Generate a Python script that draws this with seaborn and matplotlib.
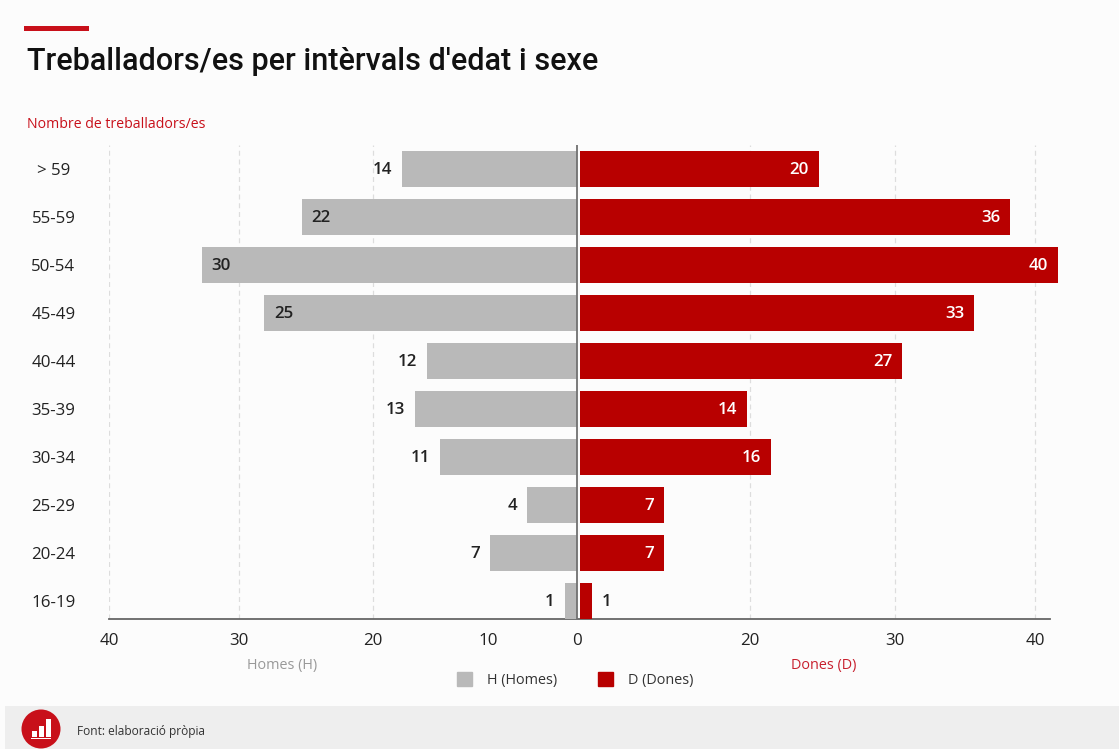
import numpy as np
import pandas as pd
import seaborn as sns
import matplotlib.pyplot as plt
from matplotlib.patches import Circle, Patch, Rectangle

# Workforce by age band and sex
age_bands = ["> 59", "55-59", "50-54", "45-49", "40-44", "35-39", "30-34", "25-29", "20-24", "16-19"]
men = [14, 22, 30, 25, 12, 13, 11, 4, 7, 1]
women = [20, 36, 40, 33, 27, 14, 16, 7, 7, 1]
axis_ticks = [-40, -30, -20, -10, 0, 20, 30, 40]

GREY = "#b9b9b9"
RED = "#b80000"
ACCENT = "#c8101a"
TEXT = "#222222"
W, H = 1119, 749

sns.set_theme(style="white")
plt.rcParams["font.family"] = ["Open Sans", "DejaVu Sans"]

fig = plt.figure(figsize=(W / 100, H / 100), dpi=100, facecolor="#fcfcfc")


def pixel_axes(x0, x1, y_top, y_bottom, **kw):
    """Axes placed from pixel edges measured from the top-left of the figure."""
    return fig.add_axes([x0 / W, 1 - y_bottom / H, (x1 - x0) / W, (y_bottom - y_top) / H], **kw)


# Full-figure layer for the header rule, footer band and free text
deco = pixel_axes(0, W, 0, H, zorder=0)
deco.set_xlim(0, W)
deco.set_ylim(H, 0)
deco.axis("off")
deco.add_patch(Rectangle((24, 26), 65, 5, color=ACCENT, lw=0))
deco.add_patch(Rectangle((5, 706), W, 43, color="#eeeeee", lw=0))
deco.add_patch(Circle((41, 729), 19.5, color=ACCENT, lw=0))
for bx, bh in [(32, 6), (39, 11), (46, 18)]:
    deco.add_patch(Rectangle((bx - 0.5, 737 - bh), 5, bh, color="white", lw=0))
deco.add_patch(Rectangle((31, 738), 20, 1.2, color="white", lw=0))
deco.text(27, 62, "Treballadors/es per intèrvals d'edat i sexe", fontsize=22, fontweight="medium",
          family="Roboto", color="#111111", va="center", ha="left")
deco.text(27, 125, "Nombre de treballadors/es", fontsize=10.2, color=ACCENT, va="center", ha="left")
deco.text(282, 665, "Homes (H)", fontsize=10.4, color="#999999", va="center", ha="center")
deco.text(824, 665, "Dones (D)", fontsize=10.4, color="#c8202e", va="center", ha="center")
deco.text(77, 732, "Font: elaboració pròpia", fontsize=8.6, color="#333333", va="center", ha="left")

# Shared value axis with its own tick spacing, gridlines behind the bars
knots_value = [-40, -30, -20, -10, 0, 20, 30, 40, 41.2]
knots_pixel = [109, 239, 373, 488, 577, 750, 895, 1035, 1050]
scale_ax = pixel_axes(109, 1050, 145, 619, zorder=1)
scale_ax.patch.set_alpha(0)
scale_ax.set_xscale("function", functions=(lambda v: np.interp(v, knots_value, knots_pixel),
                                           lambda p: np.interp(p, knots_pixel, knots_value)))
scale_ax.set_xlim(-40, 41.2)
scale_ax.set_xticks(axis_ticks, [str(abs(t)) for t in axis_ticks])
scale_ax.set_yticks([])
scale_ax.tick_params(axis="x", length=4, width=0.8, color="#999999", direction="in",
                     labelsize=12.2, labelcolor=TEXT, pad=10)
scale_ax.grid(axis="x", color="#dddddd", linestyle=(0, (4, 3)), linewidth=0.9)
for tick_value, line in zip(axis_ticks, scale_ax.get_xgridlines()):
    line.set_visible(tick_value not in (-10, 0))
for side in ("top", "left", "right"):
    scale_ax.spines[side].set_visible(False)
scale_ax.spines["bottom"].set_color("#666666")
scale_ax.spines["bottom"].set_linewidth(1.3)

ages = pd.DataFrame({"age": age_bands, "men": men, "women": women})
ylims = (9.375, -0.5)

# Men: bars grow leftward from the centre line
left = pixel_axes(109, 577, 145, 619, zorder=2)
left.patch.set_alpha(0)
sns.barplot(data=ages, y="age", x="men", color=GREY, width=0.77, saturation=1, linewidth=0, ax=left)
left.set_xlim(468 / 12.5, 0)
left.set_ylim(*ylims)
left.set(xlabel="", ylabel="")
left.set_xticks([])
left.tick_params(axis="y", length=0, pad=40, labelsize=12.2, labelcolor=TEXT)
for label in left.get_yticklabels():
    label.set_ha("center")
sns.despine(ax=left, left=True, bottom=True)

# Women: bars grow rightward
right = pixel_axes(580, 1060, 145, 619, zorder=2)
right.patch.set_alpha(0)
sns.barplot(data=ages, y="age", x="women", color=RED, width=0.77, saturation=1, linewidth=0, ax=right)
right.set_xlim(0, 480 / 11.94)
right.set_ylim(*ylims)
right.set(xlabel="", ylabel="")
right.set_xticks([])
right.set_yticks([])
sns.despine(ax=right, left=True, bottom=True)

# Value labels: outside short bars, inside the end of long ones
for i, v in enumerate(men):
    inside = v >= 20
    left.annotate(str(v), (v, i), xytext=(7 if inside else -7, -1), textcoords="offset points",
                  ha="left" if inside else "right", va="center", fontsize=12.2,
                  fontweight="semibold", color=TEXT)
for i, v in enumerate(women):
    inside = v >= 5
    right.annotate(str(v), (v, i), xytext=(-7 if inside else 7, -1), textcoords="offset points",
                   ha="right" if inside else "left", va="center", fontsize=12.2,
                   fontweight="semibold", color="white" if inside else TEXT)

# Centre line above the bars
centre = pixel_axes(109, 1050, 145, 619, zorder=3)
centre.axis("off")
centre.set_xlim(109, 1050)
centre.axvline(577, color="#707070", linewidth=1.3)

handles = [Patch(color=GREY, label="H (Homes)"), Patch(color=RED, label="D (Dones)")]
fig.legend(handles=handles, loc="center", bbox_to_anchor=(575 / W, 1 - 680 / H), ncol=2, frameon=False,
           fontsize=10.4, handlelength=1.05, handleheight=1.05, handletextpad=1.0, columnspacing=2.85,
           labelcolor="#333333")

fig.savefig("out.png", dpi=100, facecolor=fig.get_facecolor())
